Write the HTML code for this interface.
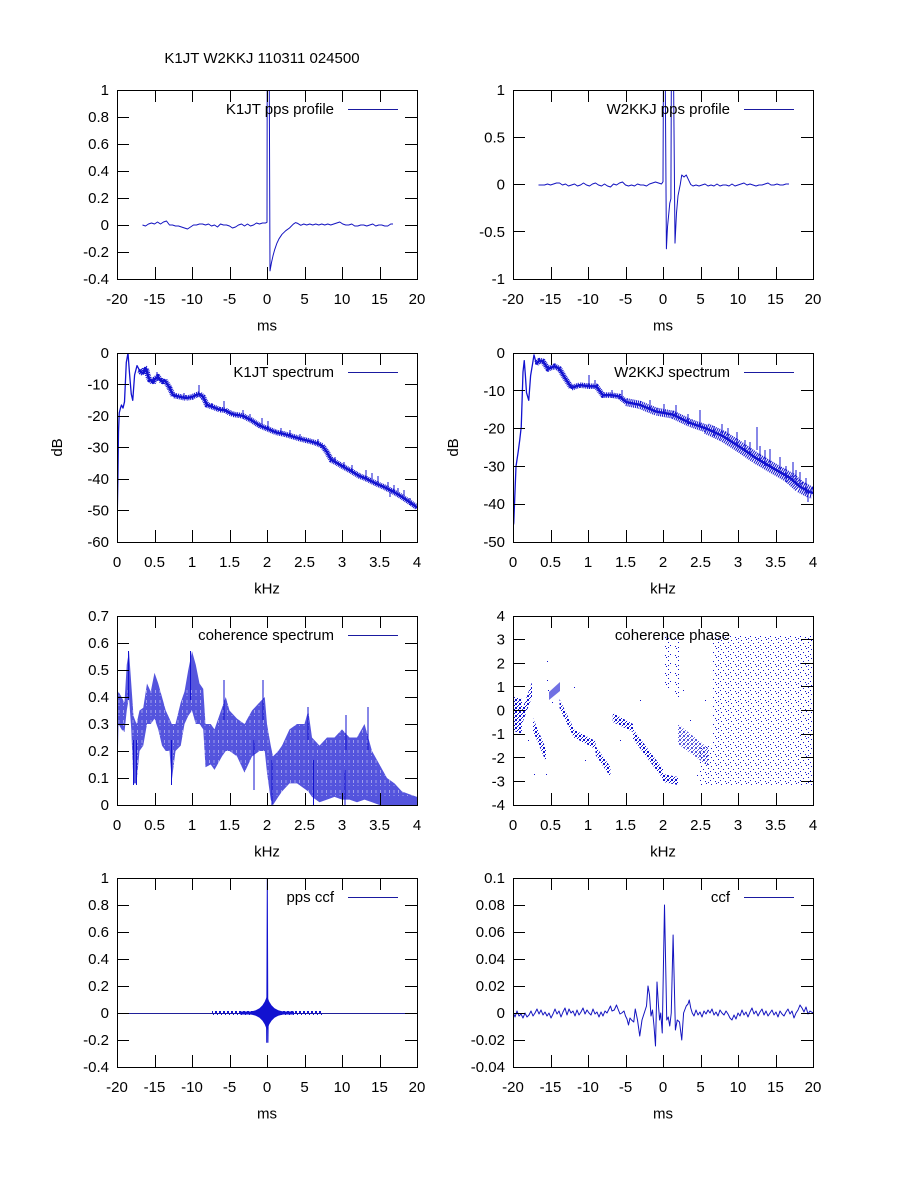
<!DOCTYPE html>
<html><head><meta charset="utf-8">
<style>
html,body{margin:0;padding:0;background:#fff;}
svg{display:block;}
text{font-family:"Liberation Sans",Arial,sans-serif;font-size:15px;fill:#000;}
</style></head>
<body>
<svg width="900" height="1200" xmlns="http://www.w3.org/2000/svg">
<defs>
<clipPath id="cA"><rect x="117" y="90" width="300" height="189"/></clipPath>
<clipPath id="cB"><rect x="513" y="90" width="300" height="189"/></clipPath>
<clipPath id="cC"><rect x="117" y="353" width="300" height="189"/></clipPath>
<clipPath id="cD"><rect x="513" y="353" width="300" height="189"/></clipPath>
<clipPath id="cE"><rect x="117" y="616" width="300" height="189"/></clipPath>
<clipPath id="cF"><rect x="513" y="616" width="300" height="189"/></clipPath>
<clipPath id="cG"><rect x="117" y="878" width="300" height="189"/></clipPath>
<clipPath id="cH"><rect x="513" y="878" width="300" height="189"/></clipPath>
<pattern id="pd" width="4" height="4" patternUnits="userSpaceOnUse" fill="#1212d0">
<rect x="0" y="0" width="1" height="1"/><rect x="2" y="1" width="1" height="1"/><rect x="1" y="2" width="1" height="1"/><rect x="3" y="3" width="1" height="1"/><rect x="3" y="0" width="1" height="1"/><rect x="0" y="3" width="1" height="1"/></pattern>
<pattern id="ps" width="10" height="9" patternUnits="userSpaceOnUse" fill="#1212d0">
<rect x="1" y="1" width="1" height="1"/><rect x="6" y="0" width="1" height="1"/><rect x="3" y="4" width="1" height="1"/><rect x="8" y="3" width="1" height="1"/><rect x="0" y="6" width="1" height="1"/><rect x="5" y="7" width="1" height="1"/><rect x="8" y="8" width="1" height="1"/></pattern>
</defs>
<rect width="900" height="1200" fill="#fff"/>

<!-- ===== DATA ===== -->
<g fill="none" stroke="#1414c0" stroke-width="1" stroke-linejoin="round">
<path clip-path="url(#cA)" d="M142.5,225 L145.5,226 L148.5,224 L151.5,223 L154.5,224 L157.5,222 L160.5,224 L163.5,222 L166.5,221 L169.5,225 L172.5,225 L175.5,226 L178.5,226 L181.5,227 L184.5,228 L187.5,229 L190.5,227 L193.5,225 L196.5,225 L199.5,224 L202.5,224 L205.5,225 L208.5,224 L211.5,226 L214.5,225 L217.5,227 L220.5,224 L223.5,225 L226.5,225 L229.5,226 L232.5,228 L235.5,227 L238.5,225 L241.5,224 L244.5,226 L247.5,224 L250.5,226 L253.5,225 L256.5,223 L259.5,224 L262.5,223 L265.5,223 L267,222.3 L267.75,-315 L270,270.9 L271.5,262.5 L273,255.8 L274.5,250.2 L276.75,243.6 L279,238.8 L282,234.3 L285.75,230.7 L289.5,228 L293.25,224.2 L295.5,222.6 L297.75,223.4 L300.75,225.3 L303.75,224 L306.75,225 L309.75,224 L312.75,225 L315.75,224 L318.75,225 L321.75,224 L324.75,225 L327.75,224 L330.75,225 L333.75,224 L336.75,223 L339.75,222 L342.75,224 L345.75,225 L348.75,225 L351.75,224 L354.75,226 L357.75,226 L360.75,225 L363.75,225 L366.75,226 L369.75,225 L372.75,224 L375.75,226 L378.75,225 L381.75,225 L384.75,226 L387.75,226 L390.75,224 L393,224"/>
<path clip-path="url(#cB)" d="M538.5,185 L541.5,185 L544.5,185 L547.5,184 L550.5,185 L553.5,184 L556.5,183 L559.5,183 L562.5,185 L565.5,184 L568.5,186 L571.5,185 L574.5,184 L577.5,186 L580.5,185 L583.5,183 L586.5,185 L589.5,186 L592.5,184 L595.5,183 L598.5,185 L601.5,186 L604.5,184 L607.5,186 L610.5,187 L613.5,184 L616.5,185 L619.5,183 L622.5,182 L625.5,185 L628.5,186 L631.5,185 L634.5,186 L637.5,184 L640.5,185 L643.5,185 L646.5,186 L649.5,184 L652.5,183 L655.5,182 L658.5,183 L661.5,184 L663,181.7 L664.1,-99 L666.4,248.8 L667.5,227 L669.75,203.4 L670.9,198.7 L672,-99 L675,243.1 L676.5,212.9 L678,195.8 L680.25,184.5 L681.75,175 L684,177 L686.25,175 L688.5,179.8 L690.75,184.5 L693,186 L696,185 L699,186 L702,185 L705,184 L708,186 L711,185 L714,186 L717,184 L720,186 L723,185 L726,185 L729,186 L732,184 L735,186 L738,185 L741,184 L744,183 L747,185 L750,184 L753,185 L756,186 L759,185 L762,185 L765,184 L768,183 L771,185 L774,185 L777,184 L780,185 L783,185 L786,184 L789,184"/>
</g>

<g fill="none" stroke="#1212d0" stroke-linejoin="round">
<!-- C -->
<g clip-path="url(#cC)">
<path stroke-width="1.3" d="M117,529.4 L117.9,479 L118.5,431.8 L119.25,412.9 L120.5,408 L121.5,405 L123,408.1 L124.5,401.8 L126.3,362.5 L128,353 L129.4,371.9 L131.25,394 L132.75,400.3 L134.6,375 L137,365.6 L139.5,370.3"/>
<path stroke-width="2.4" stroke-linecap="round" d="M139.5,370.3 L141,372 L143.25,373.5 L145,368 L146.25,368.8 L148,376 L149.6,379.8 L151,380 L153,382.9 L155,379 L158,376.6 L160,380 L162.75,381.4 L164.5,380 L166.5,382.9 L169.5,387.7 L173.25,395.5 L177,396 L180.75,397.1 L186,398 L192,397.1 L196,395 L199.5,394 L203.25,397.1 L207,405 L213,407 L219.75,409.7 L225,410 L229.5,412.9 L233.25,414.4 L238,415 L243,416 L251,420 L259.5,425.5 L268,429 L276,432.4 L284,434 L292.5,436.5 L301,439 L309.75,441.2 L316,443 L322.5,445.9 L327,452.2 L331.5,460.1 L337,463 L342.75,466.4 L351,471 L359.25,475.9 L367,479 L375.75,483.4 L384,487 L393,491.6 L399,495 L405.75,499.5 L411,503 L417,507.4"/>
<path stroke-width="5.5" stroke-dasharray="1 0.8" d="M139.5,370.3 L141,372 L143.25,373.5 L145,368 L146.25,368.8 L148,376 L149.6,379.8 L151,380 L153,382.9 L155,379 L158,376.6 L160,380 L162.75,381.4 L164.5,380 L166.5,382.9 L169.5,387.7 L173.25,395.5 L177,396 L180.75,397.1 L186,398 L192,397.1 L196,395 L199.5,394 L203.25,397.1 L207,405 L213,407 L219.75,409.7 L225,410 L229.5,412.9 L233.25,414.4 L238,415 L243,416 L251,420 L259.5,425.5 L268,429 L276,432.4 L284,434 L292.5,436.5 L301,439 L309.75,441.2 L316,443 L322.5,445.9 L327,452.2 L331.5,460.1 L337,463 L342.75,466.4 L351,471 L359.25,475.9 L367,479 L375.75,483.4 L384,487 L393,491.6 L399,495 L405.75,499.5 L411,503 L417,507.4"/>
<path stroke-width="1" d="M199,385V394M224,401V411M243,410V416M262,418V426M268,421V428M290,430V436M318,439V445M352,465V471M366,470V479M378,476V484M388,482V490M398,488V495M404,490V498M390,491V497M184,393V398M212,403V408M300,434V440M335,457V463M410,498V505M157,372V378M171,386V392M250,414V421M281,428V434M344,462V468M372,473V481M394,485V493"/>
</g>
<!-- D -->
<g clip-path="url(#cD)">
<path stroke-width="1.3" d="M513,526.9 L513.75,523.1 L514.5,504.2 L516,466.4 L518.25,451.3 L519.75,439.9 L521.25,426.7 L523,371.9 L524.25,360.6 L525.4,375.7 L526.5,392.7 L528.75,400.3 L530.6,375.7 L532.5,364.3 L534,354.9 L536.25,363.6"/>
<path stroke-width="2.4" stroke-linecap="round" d="M536.25,363.6 L539.6,360.6 L543,361.3 L548,368.9 L554.6,366.2 L559.5,368.9 L564.75,377.6 L571.5,387.8 L579.75,385.1 L589.5,386.3 L596.25,386.3 L603,395.3 L611,395 L619.5,396.5 L626.25,402.1 L639.75,404.8 L656.25,411.6 L672.75,414.6 L690,422.9 L706.5,428.6 L723,436.2 L739.5,446.7 L756,458.1 L773.25,468.3 L789.75,477.7 L799.5,486.4 L810,492.1 L813,492.9"/>
<path stroke-width="5.5" stroke-dasharray="1 0.8" d="M536.25,363.6 L539.6,360.6 L543,361.3 L548,368.9 L554.6,366.2 L559.5,368.9 L564.75,377.6 L571.5,387.8 L579.75,385.1 L589.5,386.3 L596.25,386.3 L603,395.3 L611,395 L619.5,396.5 L626.25,402.1"/>
<path stroke-width="8" stroke-dasharray="1 0.9" d="M626.25,402.1 L639.75,404.8 L656.25,411.6 L672.75,414.6 L690,422.9 L706.5,428.6"/>
<path stroke-width="11" stroke-dasharray="1 1" d="M706.5,428.6 L723,436.2 L739.5,446.7 L756,458.1 L773.25,468.3 L789.75,477.7"/>
<path stroke-width="12" stroke-dasharray="1 1" d="M789.75,477.7 L799.5,486.4 L810,492.1 L813,492.9"/>
<path stroke-width="1" d="M589,375V386M595,380V386M622,390V397M650,400V410M676,405V415M700,410V425M722,424V436M737,432V446M750,442V455M757,427V450M770,449V467M780,457V474M793,462V480M800,472V487M808,490V502M612,390V398M664,404V414M688,414V424M714,426V436M745,440V452M765,450V466M786,466V482M806,478V495M728,428V440M760,446V460M796,470V484"/>
</g>
</g>

<!-- E coherence -->
<g clip-path="url(#cE)">
<polygon fill="#1212d0" fill-opacity="0.72" points="117,697 118.5,691.6 121.5,697 124.5,702.4 126.75,664.6 129,651.1 131.25,683.5 133.5,715.9 136.5,724 139.5,710.5 143.25,707.8 147,683.5 150.75,691.6 154.5,672.7 158.25,683.5 162,697 165.75,710.5 169.5,718.6 171.75,724 175.5,724 180.75,702.4 184.5,691.6 188.25,670 192,651.1 195.75,664.6 199.5,683.5 203.25,688.9 205.5,724 210.75,724 214.5,729.4 222,707.8 225.75,697 229.5,710.5 237,718.6 244.5,724 252,710.5 259.5,702.4 264.75,697 267,724 270.75,745.6 273,756.4 278.25,751 282,745.6 289.5,729.4 297,724 304.5,724 308.25,710.5 312,737.5 319.5,745.6 327,737.5 334.5,737.5 342,729.4 349.5,737.5 357,737.5 364.5,724 372,751 379.5,764.5 387,778 394.5,783.4 402,791.5 409.5,794.2 417,796.9 417,805 409.5,805 402,805 394.5,805 387,805 379.5,805 372,802.3 364.5,799.6 357,802.3 349.5,799.6 342,799.6 334.5,796.9 327,799.6 319.5,802.3 312,796.9 308.25,791.5 304.5,788.8 297,783.4 289.5,783.4 282,791.5 278.25,796.9 273,805 270.75,799.6 267,772.6 264.75,751 259.5,751 252,756.4 244.5,772.6 237,756.4 229.5,751 225.75,751 222,756.4 214.5,769.9 210.75,764.5 205.5,767.2 203.25,729.4 199.5,724 195.75,724 192,710.5 188.25,715.9 184.5,724 180.75,745.6 175.5,751 171.75,780.7 169.5,751 165.75,751 162,745.6 158.25,729.4 154.5,718.6 150.75,724 147,724 143.25,745.6 139.5,751 136.5,783.4 133.5,783.4 131.25,729.4 129,697 126.75,710.5 124.5,732.1 121.5,729.4 118.5,724 117,796.9"/>
<path fill="none" stroke="#ffffff" stroke-opacity="0.45" stroke-width="1" stroke-dasharray="3 2 1 4" d="M119,690V800M123.5,690V800M128,690V800M133,690V800M137.5,690V800M142,690V800M146.5,690V800M151,690V800M155.5,690V800M160,690V800M164.5,690V800M169,690V800M173.5,690V800M178,690V800M182.5,690V800M187,690V800M191.5,690V800M196,690V800M200.5,690V800M205,690V800M209.5,690V800M214,690V800M218.5,690V800M223,690V800M227.5,690V800M232,690V800M236.5,690V800M241,690V800M245.5,690V800M250,690V800M254.5,690V800M259,690V800M263.5,690V800M268,690V800M272.5,690V800M277,690V800M281.5,690V800M286,690V800M290.5,690V800M295,690V800M299.5,690V800M304,690V800M308.5,690V800M313,690V800M317.5,690V800M322,690V800M326.5,690V800M331,690V800M335.5,690V800M340,690V800M344.5,690V800M349,690V800M353.5,690V800M358,690V800M362.5,690V800M367,690V800M371.5,690V800M376,690V800M380.5,690V800M385,690V800M389.5,690V800M394,690V800M398.5,690V800M403,690V800M407.5,690V800M412,690V800"/>
<path fill="none" stroke="#1212d0" stroke-width="1" d="M128.5,700V651M190.5,700V651M224,720V680M263,720V680M308,740V707M346,750V715M368,750V707M272,760V805M313.5,760V805M345,770V805M171.5,740V785M133.5,740V785M136.5,740V785M254,740V790M117.5,700V797"/>
</g>

<!-- F coherence phase -->
<g clip-path="url(#cF)">
<polygon fill="url(#pd)" points="514,697 522,699 522,734 514,731"/>
<polygon fill="url(#pd)" points="522,710 532,682 532,697 522,724"/>
<polygon fill="url(#pd)" points="533,718 546,749 546,762 533,731"/>
<polygon fill="#1212d0" fill-opacity="0.6" points="549,692 560,682 560,691 549,700"/>
<polygon fill="url(#pd)" points="559.5,699 573,727 573,736 559.5,708"/>
<polygon fill="url(#pd)" points="573,729 595.5,741 595.5,749 573,737"/>
<polygon fill="url(#pd)" points="595.5,746 610.5,767 610.5,777 595.5,755"/>
<polygon fill="url(#pd)" points="612.75,713 633,724 633,732 612.75,722"/>
<polygon fill="url(#pd)" points="633,729 663,769 663,779 633,739"/>
<polygon fill="url(#pd)" points="663,774 678,777 678,785 663,782"/>
<polygon fill="url(#ps)" points="664,636 671,636 671,690 664,690"/>
<polygon fill="url(#ps)" points="674,637 680,637 680,700 674,700"/>
<polygon fill="url(#pd)" fill-opacity="0.7" points="678,724 708,748 708,766 678,744"/>
<polygon fill="url(#ps)" points="700,746 715,746 715,785 700,785"/>
<polygon fill="url(#ps)" points="712,636 813,636 813,785 712,785"/>
<path fill="#1212d0" d="M534,774h1v1h-1zM546,774h1v1h-1zM547,661h1v1h-1zM547,680h1v1h-1zM548,690h1v1h-1zM574,687h1v1h-1zM552,702h1v1h-1zM620,740h1v1h-1zM640,700h1v1h-1zM655,760h1v1h-1zM683,690h1v1h-1zM690,720h1v1h-1zM697,775h1v1h-1zM705,700h1v1h-1zM528,740h1v1h-1zM585,760h1v1h-1z"/>
</g>

<!-- G pps ccf -->
<g clip-path="url(#cG)">
<path fill="none" stroke="#20209a" stroke-width="1" d="M117,1013.5H417"/>
<rect x="212" y="1011" width="110" height="4" fill="url(#pd)"/>
<rect x="240" y="1011.5" width="54" height="3" fill="#1212d0"/>
<polygon fill="#1212d0" points="248.25,1011.7 252,1011.3 255.75,1010.3 259.5,1008.3 262.5,1005.3 264.75,1001.6 267,996 269.25,1001.6 271.5,1005.3 274.5,1008.3 278.25,1010.3 282,1011.3 285.75,1011.7 285.75,1014.3 282,1014.7 278.25,1015.7 274.5,1017.7 271.5,1020.7 269.25,1024.4 267,1030 264.75,1024.4 262.5,1020.7 259.5,1017.7 255.75,1015.7 252,1014.7 248.25,1014.3"/>
<path fill="none" stroke="#1212d0" stroke-width="1" d="M266.5,1013 L266.7,1042.7 L267.3,878 L267.9,1042.7 L268.4,1006"/>
</g>

<!-- H ccf -->
<path clip-path="url(#cH)" fill="none" stroke="#1414c0" stroke-width="1" stroke-linejoin="round" d="M513,1012 L515,1017 L517,1011 L519,1016 L521,1014 L523,1018 L525,1013 L527,1017 L529,1015 L531,1011 L533,1016 L535,1013 L537,1009 L539,1014 L541,1010 L543,1015 L545,1012 L547,1016 L549,1013 L551,1018 L553,1014 L555,1009 L557,1014 L559,1011 L561,1017 L563,1012 L565,1008 L567,1015 L569,1009 L571,1013 L573,1011 L575,1016 L577,1010 L579,1015 L581,1012 L583,1008 L585,1014 L587,1010 L589,1013 L591,1015 L593,1009 L595,1014 L597,1012 L599,1017 L601,1012 L603,1016 L605,1011 L607,1013 L610.5,1006 L612,1011 L614.25,1010 L616.5,1005 L618,1009 L620,1014 L621.75,1013 L624,1011 L625.5,1016 L627,1019 L628.5,1025 L630,1018 L631.5,1020 L633.75,1022 L635.25,1009 L637.5,1020 L639.75,1036 L642,1020 L644.25,1013 L646.5,1006 L648,986 L649.5,995 L651,1016 L652.5,1010 L654,1026 L655.5,1046 L657,982 L658.5,1006 L659.6,1020 L660.75,1013 L662.25,1033 L664.5,905 L666.75,1020 L668.25,1017 L669.75,1026 L671.25,1013 L673.1,935 L675.4,1030 L677.25,1020 L679.5,1022 L681.75,1040 L683.6,1013 L686.25,1006 L688,1004 L689.25,1000 L690.75,1008 L692.25,1013 L694,1016 L696,1010 L698,1015 L700,1012 L702,1017 L704,1011 L706,1014 L708,1010 L710,1013 L712,1009 L714,1015 L716,1012 L718,1016 L720,1010 L722,1013 L724,1015 L726,1011 L728,1014 L730,1018 L732,1020 L734,1015 L736,1019 L738,1013 L740,1016 L742,1010 L744,1015 L746,1012 L748,1017 L750,1012 L752,1008 L754,1014 L756,1011 L758,1016 L760,1012 L762,1009 L764,1015 L766,1011 L768,1016 L770,1013 L772,1010 L774,1015 L776,1012 L778,1017 L780,1011 L782,1014 L784,1016 L786,1012 L788,1009 L790,1014 L792,1011 L794,1018 L796,1013 L798,1010 L800,1005 L802,1008 L804,1012 L806,1007 L808,1014 L810,1011 L813,1013"/>

<!-- ===== FRAMES & TICKS ===== -->
<g fill="none" stroke="#000" stroke-width="1">
<path d="M117.5,90.5h300v189h-300z M155.5,279v-12M192.5,279v-12M230.5,279v-12M267.5,279v-12M305.5,279v-12M342.5,279v-12M380.5,279v-12 M155.5,90v12M192.5,90v12M230.5,90v12M267.5,90v12M305.5,90v12M342.5,90v12M380.5,90v12 M117,117.5h12M117,144.5h12M117,171.5h12M117,198.5h12M117,225.5h12M117,252.5h12 M417,117.5h-12M417,144.5h-12M417,171.5h-12M417,198.5h-12M417,225.5h-12M417,252.5h-12"/>
<path d="M513.5,90.5h300v189h-300z M551.5,279v-12M588.5,279v-12M626.5,279v-12M663.5,279v-12M701.5,279v-12M738.5,279v-12M776.5,279v-12 M551.5,90v12M588.5,90v12M626.5,90v12M663.5,90v12M701.5,90v12M738.5,90v12M776.5,90v12 M513,137.5h12M513,184.5h12M513,231.5h12 M813,137.5h-12M813,184.5h-12M813,231.5h-12"/>
<path d="M117.5,353.5h300v189h-300z M155.5,542v-12M192.5,542v-12M230.5,542v-12M267.5,542v-12M305.5,542v-12M342.5,542v-12M380.5,542v-12 M155.5,353v12M192.5,353v12M230.5,353v12M267.5,353v12M305.5,353v12M342.5,353v12M380.5,353v12 M117,384.5h12M117,416.5h12M117,447.5h12M117,479.5h12M117,510.5h12 M417,384.5h-12M417,416.5h-12M417,447.5h-12M417,479.5h-12M417,510.5h-12"/>
<path d="M513.5,353.5h300v189h-300z M551.5,542v-12M588.5,542v-12M626.5,542v-12M663.5,542v-12M701.5,542v-12M738.5,542v-12M776.5,542v-12 M551.5,353v12M588.5,353v12M626.5,353v12M663.5,353v12M701.5,353v12M738.5,353v12M776.5,353v12 M513,390.5h12M513,428.5h12M513,466.5h12M513,504.5h12 M813,390.5h-12M813,428.5h-12M813,466.5h-12M813,504.5h-12"/>
<path d="M117.5,616.5h300v189h-300z M155.5,805v-12M192.5,805v-12M230.5,805v-12M267.5,805v-12M305.5,805v-12M342.5,805v-12M380.5,805v-12 M155.5,616v12M192.5,616v12M230.5,616v12M267.5,616v12M305.5,616v12M342.5,616v12M380.5,616v12 M117,643.5h12M117,670.5h12M117,697.5h12M117,724.5h12M117,751.5h12M117,778.5h12 M417,643.5h-12M417,670.5h-12M417,697.5h-12M417,724.5h-12M417,751.5h-12M417,778.5h-12"/>
<path d="M513.5,616.5h300v189h-300z M551.5,805v-12M588.5,805v-12M626.5,805v-12M663.5,805v-12M701.5,805v-12M738.5,805v-12M776.5,805v-12 M551.5,616v12M588.5,616v12M626.5,616v12M663.5,616v12M701.5,616v12M738.5,616v12M776.5,616v12 M513,639.5h12M513,663.5h12M513,686.5h12M513,710.5h12M513,734.5h12M513,757.5h12M513,781.5h12 M813,639.5h-12M813,663.5h-12M813,686.5h-12M813,710.5h-12M813,734.5h-12M813,757.5h-12M813,781.5h-12"/>
<path d="M117.5,878.5h300v189h-300z M155.5,1067v-12M192.5,1067v-12M230.5,1067v-12M267.5,1067v-12M305.5,1067v-12M342.5,1067v-12M380.5,1067v-12 M155.5,878v12M192.5,878v12M230.5,878v12M267.5,878v12M305.5,878v12M342.5,878v12M380.5,878v12 M117,905.5h12M117,932.5h12M117,959.5h12M117,986.5h12M117,1013.5h12M117,1040.5h12 M417,905.5h-12M417,932.5h-12M417,959.5h-12M417,986.5h-12M417,1013.5h-12M417,1040.5h-12"/>
<path d="M513.5,878.5h300v189h-300z M551.5,1067v-12M588.5,1067v-12M626.5,1067v-12M663.5,1067v-12M701.5,1067v-12M738.5,1067v-12M776.5,1067v-12 M551.5,878v12M588.5,878v12M626.5,878v12M663.5,878v12M701.5,878v12M738.5,878v12M776.5,878v12 M513,905.5h12M513,932.5h12M513,959.5h12M513,986.5h12M513,1013.5h12M513,1040.5h12 M813,905.5h-12M813,932.5h-12M813,959.5h-12M813,986.5h-12M813,1013.5h-12M813,1040.5h-12"/>
</g>

<g stroke="#1a1aa0" stroke-width="1">
<line x1="348" y1="109.5" x2="398" y2="109.5"/>
<line x1="744" y1="109.5" x2="794" y2="109.5"/>
<line x1="348" y1="372.5" x2="398" y2="372.5"/>
<line x1="744" y1="372.5" x2="794" y2="372.5"/>
<line x1="348" y1="635.5" x2="398" y2="635.5"/>
<line x1="348" y1="897.5" x2="398" y2="897.5"/>
<line x1="744" y1="897.5" x2="794" y2="897.5"/>
</g>

<text x="262" y="63" text-anchor="middle">K1JT W2KKJ 110311 024500</text>

<g text-anchor="end">
<text x="334" y="114">K1JT pps profile</text>
<text x="730" y="114">W2KKJ pps profile</text>
<text x="334" y="377">K1JT spectrum</text>
<text x="730" y="377">W2KKJ spectrum</text>
<text x="334" y="640">coherence spectrum</text>
<text x="730" y="640">coherence phase</text>
<text x="334" y="902">pps ccf</text>
<text x="730" y="902">ccf</text>
</g>

<g text-anchor="end">
<text x="109" y="284">-0.4</text><text x="109" y="257">-0.2</text><text x="109" y="230">0</text><text x="109" y="203">0.2</text><text x="109" y="176">0.4</text><text x="109" y="149">0.6</text><text x="109" y="122">0.8</text><text x="109" y="95">1</text>
<text x="505" y="284">-1</text><text x="505" y="236.75">-0.5</text><text x="505" y="189.5">0</text><text x="505" y="142.25">0.5</text><text x="505" y="95">1</text>
<text x="109" y="547">-60</text><text x="109" y="515.5">-50</text><text x="109" y="484">-40</text><text x="109" y="452.5">-30</text><text x="109" y="421">-20</text><text x="109" y="389.5">-10</text><text x="109" y="358">0</text>
<text x="505" y="547">-50</text><text x="505" y="509.2">-40</text><text x="505" y="471.4">-30</text><text x="505" y="433.6">-20</text><text x="505" y="395.8">-10</text><text x="505" y="358">0</text>
<text x="109" y="810">0</text><text x="109" y="783">0.1</text><text x="109" y="756">0.2</text><text x="109" y="729">0.3</text><text x="109" y="702">0.4</text><text x="109" y="675">0.5</text><text x="109" y="648">0.6</text><text x="109" y="621">0.7</text>
<text x="505" y="810">-4</text><text x="505" y="786.4">-3</text><text x="505" y="762.75">-2</text><text x="505" y="739.1">-1</text><text x="505" y="715.5">0</text><text x="505" y="691.9">1</text><text x="505" y="668.25">2</text><text x="505" y="644.6">3</text><text x="505" y="621">4</text>
<text x="109" y="1072">-0.4</text><text x="109" y="1045">-0.2</text><text x="109" y="1018">0</text><text x="109" y="991">0.2</text><text x="109" y="964">0.4</text><text x="109" y="937">0.6</text><text x="109" y="910">0.8</text><text x="109" y="883">1</text>
<text x="505" y="1072">-0.04</text><text x="505" y="1045">-0.02</text><text x="505" y="1018">0</text><text x="505" y="991">0.02</text><text x="505" y="964">0.04</text><text x="505" y="937">0.06</text><text x="505" y="910">0.08</text><text x="505" y="883">0.1</text>
</g>

<g text-anchor="middle">
<text x="117" y="304">-20</text><text x="154.5" y="304">-15</text><text x="192" y="304">-10</text><text x="229.5" y="304">-5</text><text x="267" y="304">0</text><text x="304.5" y="304">5</text><text x="342" y="304">10</text><text x="379.5" y="304">15</text><text x="417" y="304">20</text>
<text x="513" y="304">-20</text><text x="550.5" y="304">-15</text><text x="588" y="304">-10</text><text x="625.5" y="304">-5</text><text x="663" y="304">0</text><text x="700.5" y="304">5</text><text x="738" y="304">10</text><text x="775.5" y="304">15</text><text x="813" y="304">20</text>
<text x="117" y="567">0</text><text x="154.5" y="567">0.5</text><text x="192" y="567">1</text><text x="229.5" y="567">1.5</text><text x="267" y="567">2</text><text x="304.5" y="567">2.5</text><text x="342" y="567">3</text><text x="379.5" y="567">3.5</text><text x="417" y="567">4</text>
<text x="513" y="567">0</text><text x="550.5" y="567">0.5</text><text x="588" y="567">1</text><text x="625.5" y="567">1.5</text><text x="663" y="567">2</text><text x="700.5" y="567">2.5</text><text x="738" y="567">3</text><text x="775.5" y="567">3.5</text><text x="813" y="567">4</text>
<text x="117" y="830">0</text><text x="154.5" y="830">0.5</text><text x="192" y="830">1</text><text x="229.5" y="830">1.5</text><text x="267" y="830">2</text><text x="304.5" y="830">2.5</text><text x="342" y="830">3</text><text x="379.5" y="830">3.5</text><text x="417" y="830">4</text>
<text x="513" y="830">0</text><text x="550.5" y="830">0.5</text><text x="588" y="830">1</text><text x="625.5" y="830">1.5</text><text x="663" y="830">2</text><text x="700.5" y="830">2.5</text><text x="738" y="830">3</text><text x="775.5" y="830">3.5</text><text x="813" y="830">4</text>
<text x="117" y="1092">-20</text><text x="154.5" y="1092">-15</text><text x="192" y="1092">-10</text><text x="229.5" y="1092">-5</text><text x="267" y="1092">0</text><text x="304.5" y="1092">5</text><text x="342" y="1092">10</text><text x="379.5" y="1092">15</text><text x="417" y="1092">20</text>
<text x="513" y="1092">-20</text><text x="550.5" y="1092">-15</text><text x="588" y="1092">-10</text><text x="625.5" y="1092">-5</text><text x="663" y="1092">0</text><text x="700.5" y="1092">5</text><text x="738" y="1092">10</text><text x="775.5" y="1092">15</text><text x="813" y="1092">20</text>
<text x="267" y="330.5">ms</text><text x="663" y="330.5">ms</text>
<text x="267" y="593.5">kHz</text><text x="663" y="593.5">kHz</text>
<text x="267" y="856.5">kHz</text><text x="663" y="856.5">kHz</text>
<text x="267" y="1118.5">ms</text><text x="663" y="1118.5">ms</text>
<text transform="translate(62,447.5) rotate(-90)">dB</text>
<text transform="translate(458,447.5) rotate(-90)">dB</text>
</g>
</svg>
</body></html>
